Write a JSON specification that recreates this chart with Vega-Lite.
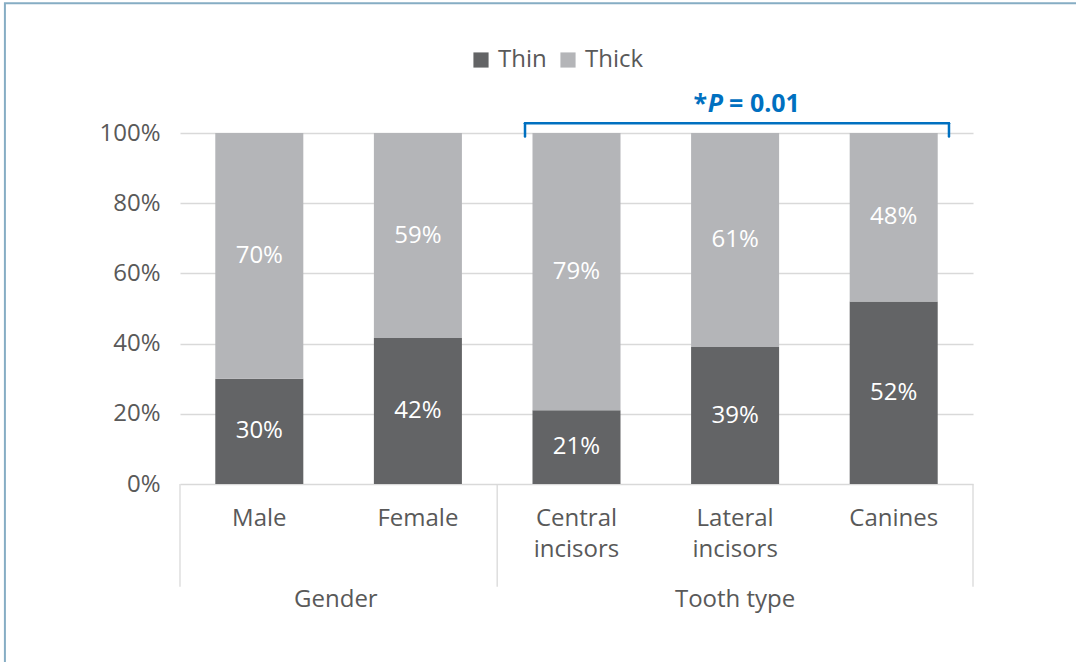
{
  "$schema": "https://vega.github.io/schema/vega-lite/v6.json",
  "width": 793,
  "height": 351,
  "autosize": {"type": "none"},
  "padding": {"left": 180, "top": 133, "right": 103, "bottom": 178},
  "background": "white",
  "config": {
    "view": {"stroke": null},
    "font": "Open Sans",
    "text": {"font": "Open Sans"}
  },
  "datasets": {
    "shares": [
      {"category": "Male", "thickness": "Thin", "share": 0.30},
      {"category": "Male", "thickness": "Thick", "share": 0.70},
      {"category": "Female", "thickness": "Thin", "share": 0.42},
      {"category": "Female", "thickness": "Thick", "share": 0.59},
      {"category": "Central incisors", "thickness": "Thin", "share": 0.21},
      {"category": "Central incisors", "thickness": "Thick", "share": 0.79},
      {"category": "Lateral incisors", "thickness": "Thin", "share": 0.39},
      {"category": "Lateral incisors", "thickness": "Thick", "share": 0.61},
      {"category": "Canines", "thickness": "Thin", "share": 0.52},
      {"category": "Canines", "thickness": "Thick", "share": 0.48}
    ],
    "groups": [
      {"group": "Gender", "first": "Male"},
      {"group": "Tooth type", "first": "Central incisors"}
    ]
  },
  "layer": [
    {
      "data": {"name": "shares"},
      "mark": {"type": "bar"},
      "encoding": {
        "x": {
          "field": "category",
          "type": "nominal",
          "sort": null,
          "scale": {
            "domain": ["Male", "Female", "Central incisors", "Lateral incisors", "Canines"],
            "paddingInner": 0.445,
            "paddingOuter": 0.2225
          },
          "axis": {
            "title": null,
            "domain": false,
            "ticks": false,
            "grid": false,
            "labelAngle": 0,
            "labelAlign": "center",
            "labelBaseline": "top",
            "labelFontSize": 24,
            "labelColor": "#595959",
            "labelPadding": 22,
            "labelLineHeight": 31,
            "labelExpr": "split(datum.label, ' ')"
          }
        },
        "y": {
          "field": "share",
          "type": "quantitative",
          "stack": "normalize",
          "scale": {"domain": [0, 1], "nice": false},
          "axis": {
            "title": null,
            "domain": false,
            "ticks": false,
            "grid": true,
            "values": [0, 0.2, 0.4, 0.6, 0.8, 1],
            "format": ".0%",
            "labelFontSize": 24,
            "labelColor": "#595959",
            "labelPadding": 20,
            "gridColor": "#d9d9d9",
            "gridWidth": 1.3
          }
        },
        "color": {
          "field": "thickness",
          "type": "nominal",
          "scale": {"domain": ["Thin", "Thick"], "range": ["#636466", "#b4b5b8"]},
          "legend": {
            "orient": "none",
            "legendX": 289,
            "legendY": -85,
            "direction": "horizontal",
            "title": null,
            "padding": 0,
            "symbolType": "square",
            "symbolSize": 230,
            "symbolStrokeWidth": 0,
            "labelFontSize": 24,
            "labelColor": "#595959",
            "labelOffset": 5,
            "columnPadding": 9
          }
        },
        "order": {"field": "thickness", "sort": "descending"}
      }
    },
    {
      "data": {"name": "shares"},
      "mark": {"type": "text", "color": "white", "fontSize": 24, "baseline": "middle"},
      "encoding": {
        "x": {"field": "category", "type": "nominal", "sort": null},
        "y": {"field": "share", "type": "quantitative", "stack": "normalize", "bandPosition": 0.5},
        "text": {"field": "share", "type": "quantitative", "format": ".0%"},
        "order": {"field": "thickness", "sort": "descending"}
      }
    },
    {
      "data": {"name": "groups"},
      "mark": {"type": "rule", "color": "#d9d9d9", "strokeWidth": 1.3},
      "encoding": {
        "x": {"field": "first", "type": "nominal", "bandPosition": -0.401},
        "y": {"datum": 0, "type": "quantitative"},
        "y2": {"datum": -0.2926}
      }
    },
    {
      "data": {"values": [{}]},
      "mark": {"type": "rule", "color": "#d9d9d9", "strokeWidth": 1.3},
      "encoding": {
        "x": {"datum": "Canines", "bandPosition": 1.401},
        "y": {"datum": 0, "type": "quantitative"},
        "y2": {"datum": -0.2926}
      }
    },
    {
      "data": {"values": [{}]},
      "mark": {"type": "text", "fontSize": 24, "color": "#595959", "align": "center", "baseline": "alphabetic"},
      "encoding": {
        "x": {"datum": "Male", "bandPosition": 1.37},
        "y": {"datum": -0.3496, "type": "quantitative"},
        "text": {"value": "Gender"}
      }
    },
    {
      "data": {"values": [{}]},
      "mark": {"type": "text", "fontSize": 24, "color": "#595959", "align": "center", "baseline": "alphabetic"},
      "encoding": {
        "x": {"datum": "Lateral incisors", "bandPosition": 0.5},
        "y": {"datum": -0.3496, "type": "quantitative"},
        "text": {"value": "Tooth type"}
      }
    },
    {
      "data": {"values": [{}]},
      "mark": {"type": "rule", "color": "#0070c0", "strokeWidth": 2.5, "strokeCap": "round"},
      "encoding": {
        "x": {"datum": "Central incisors", "bandPosition": -0.085},
        "x2": {"datum": "Canines", "bandPosition": 1.128},
        "y": {"datum": 1.0276, "type": "quantitative"}
      }
    },
    {
      "data": {"values": [{}]},
      "mark": {"type": "rule", "color": "#0070c0", "strokeWidth": 2.5, "strokeCap": "round"},
      "encoding": {
        "x": {"datum": "Central incisors", "bandPosition": -0.085},
        "y": {"datum": 1.0276, "type": "quantitative"},
        "y2": {"datum": 0.99}
      }
    },
    {
      "data": {"values": [{}]},
      "mark": {"type": "rule", "color": "#0070c0", "strokeWidth": 2.5, "strokeCap": "round"},
      "encoding": {
        "x": {"datum": "Canines", "bandPosition": 1.128},
        "y": {"datum": 1.0276, "type": "quantitative"},
        "y2": {"datum": 0.99}
      }
    },
    {
      "data": {"values": [{}]},
      "mark": {"type": "text", "fontSize": 25, "fontWeight": "bold", "color": "#0070c0", "align": "right", "baseline": "alphabetic", "dx": -28},
      "encoding": {
        "x": {"datum": "Lateral incisors", "bandPosition": 0.5},
        "y": {"datum": 1.0607, "type": "quantitative"},
        "text": {"value": "*"}
      }
    },
    {
      "data": {"values": [{}]},
      "mark": {"type": "text", "fontSize": 25, "fontWeight": "bold", "fontStyle": "italic", "color": "#0070c0", "align": "right", "baseline": "alphabetic", "dx": -12},
      "encoding": {
        "x": {"datum": "Lateral incisors", "bandPosition": 0.5},
        "y": {"datum": 1.0607, "type": "quantitative"},
        "text": {"value": "P"}
      }
    },
    {
      "data": {"values": [{}]},
      "mark": {"type": "text", "fontSize": 25, "fontWeight": "bold", "color": "#0070c0", "align": "left", "baseline": "alphabetic", "dx": -6},
      "encoding": {
        "x": {"datum": "Lateral incisors", "bandPosition": 0.5},
        "y": {"datum": 1.0607, "type": "quantitative"},
        "text": {"value": "= 0.01"}
      }
    },
    {
      "data": {"values": [{}]},
      "mark": {"type": "rect", "fill": null, "stroke": "#86adc4", "strokeWidth": 2},
      "encoding": {
        "x": {"datum": "Male", "bandPosition": -2.39},
        "x2": {"datum": "Canines", "bandPosition": 3.5},
        "y": {"datum": 1.37, "type": "quantitative"},
        "y2": {"datum": -0.7}
      }
    }
  ]
}
